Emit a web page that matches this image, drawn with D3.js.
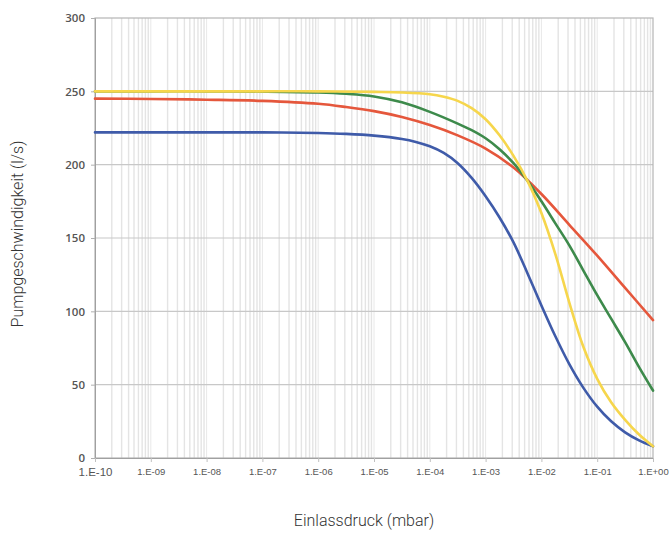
<!DOCTYPE html>
<html><head><meta charset="utf-8">
<script src="https://cdn.jsdelivr.net/npm/d3@7"></script>
<style>body{margin:0;background:#fff}svg{display:block}</style>
</head><body>
<svg id="c" width="670" height="533"></svg>
<script>
// Data: log10 pressure (mbar) and pump speed (l/s)
const xTickLabels = ["1.E-10","1.E-09","1.E-08","1.E-07","1.E-06","1.E-05","1.E-04","1.E-03","1.E-02","1.E-01","1.E+00"];
const yTicks = [0,50,100,150,200,250,300];
const blueLogP = [-10,-9,-8,-7,-6,-5.5,-5,-4.5,-4.25,-4,-3.75,-3.5,-3.25,-3,-2.75,-2.5,-2.25,-2,-1.75,-1.5,-1.25,-1,-0.75,-0.5,-0.25,0];
const blueValues = [222,222,222,222,221.6,221,219.8,217.5,215.5,212.5,208,201,191,178.5,164,147,126,104,83,64,48,35,25,17.5,12,8];
const redLogP = [-10,-9,-8,-7,-6,-5.5,-5,-4.5,-4,-3.5,-3,-2.5,-2,-1.5,-1,-0.5,0];
const redValues = [245,244.8,244.3,243.5,241.5,239.3,236.5,232.5,227,220,211,198,180,159,138,116,94];
const greenLogP = [-10,-9,-8,-7,-6,-5.5,-5,-4.5,-4,-3.5,-3.25,-3,-2.75,-2.5,-2.25,-2,-1.75,-1.5,-1.25,-1,-0.75,-0.5,-0.25,0];
const greenValues = [250,250,250,249.8,249.2,248.3,246.5,242.5,236,228,223.5,218,210.5,201,189,175,160,145,128,111,95,79,62,46];
const yellowLogP = [-10,-9,-8,-7,-6,-5,-4.5,-4,-3.75,-3.5,-3.25,-3,-2.75,-2.5,-2.25,-2,-1.75,-1.5,-1.25,-1,-0.75,-0.5,-0.25,0];
const yellowValues = [250,250,250,250,250,249.6,249.2,248,246.3,243.5,238.5,231,220,206,189,167,139,106,76,54,38,26,16,8];

const series = [
  {p: blueLogP, v: blueValues, color: "#3f5ba9"},
  {p: redLogP, v: redValues, color: "#e5573c"},
  {p: greenLogP, v: greenValues, color: "#3d8a4b"},
  {p: yellowLogP, v: yellowValues, color: "#f6d64c"}
];

const svg = d3.select("#c");
const L = 95, R = 653, T = 18, B = 458;
const x = d3.scaleLog().domain([1e-10, 1]).range([L, R]);
const y = d3.scaleLinear().domain([0, 300]).range([B, T]);

const g = svg.append("g");
const minor = [];
for (let e = -10; e < 0; e++) for (let k = 2; k <= 9; k++) minor.push(k * Math.pow(10, e));
g.selectAll("line.minor").data(minor).join("line")
  .attr("x1", d => x(d)).attr("x2", d => x(d)).attr("y1", T).attr("y2", B)
  .attr("stroke", "#e4e4e4").attr("stroke-width", 1.4);
const majors = d3.range(-9, 0).map(e => Math.pow(10, e));
g.selectAll("line.major").data(majors).join("line")
  .attr("x1", d => x(d)).attr("x2", d => x(d)).attr("y1", T).attr("y2", B)
  .attr("stroke", "#e8e8e8").attr("stroke-width", 1);
g.selectAll("line.h").data(yTicks.slice(1, -1)).join("line")
  .attr("x1", L).attr("x2", R).attr("y1", d => y(d)).attr("y2", d => y(d))
  .attr("stroke", "#c8c8c8").attr("stroke-width", 1.2);

svg.append("rect").attr("x", L).attr("y", T).attr("width", R - L).attr("height", B - T)
  .attr("fill", "none").attr("stroke", "#b5b5b5").attr("stroke-width", 1.2);

const yAxis = d3.axisLeft(y).tickValues(yTicks).tickSize(4).tickPadding(6).tickFormat(d3.format("d"));
const ya = svg.append("g").attr("transform", `translate(${L},0)`).call(yAxis);
ya.select(".domain").attr("stroke", "#a0a0a0");
ya.selectAll(".tick line").attr("stroke", "#b0b0b0");
ya.selectAll("text").attr("font-family", "'Open Sans', sans-serif").attr("font-size", 11.5)
  .attr("font-weight", 600).attr("fill", "#555");

const xTicks = d3.range(-10, 1).map(e => Math.pow(10, e));
const xAxis = d3.axisBottom(x).tickValues(xTicks).tickSize(4).tickPadding(6)
  .tickFormat((d, i) => xTickLabels[i]);
const xa = svg.append("g").attr("transform", `translate(0,${B})`).call(xAxis);
xa.select(".domain").attr("stroke", "#a0a0a0");
xa.selectAll(".tick line").attr("stroke", "#c0c0c0");
xa.selectAll("text").attr("font-family", "'Liberation Sans Narrow', 'Liberation Sans', sans-serif")
  .attr("font-size", (d, i) => i === 0 ? 11.5 : 9.5).attr("fill", "#555");

const line = d3.line().x(d => x(Math.pow(10, d[0]))).y(d => y(d[1])).curve(d3.curveCatmullRom.alpha(0.5));
series.forEach(s => {
  svg.append("path").datum(s.p.map((p, i) => [p, s.v[i]]))
    .attr("d", line).attr("fill", "none").attr("stroke", s.color)
    .attr("stroke-width", 2.6).attr("stroke-linecap", "round");
});

svg.append("text").attr("x", 364).attr("y", 526).attr("text-anchor", "middle")
  .attr("font-family", "Roboto, sans-serif").attr("font-size", 16).attr("font-weight", 300)
  .attr("fill", "#333").text("Einlassdruck (mbar)");
svg.append("text").attr("transform", "translate(23,234) rotate(-90)").attr("text-anchor", "middle")
  .attr("font-family", "Roboto, sans-serif").attr("font-size", 16).attr("font-weight", 300)
  .attr("fill", "#333").text("Pumpgeschwindigkeit (l/s)");
</script>
</body></html>
